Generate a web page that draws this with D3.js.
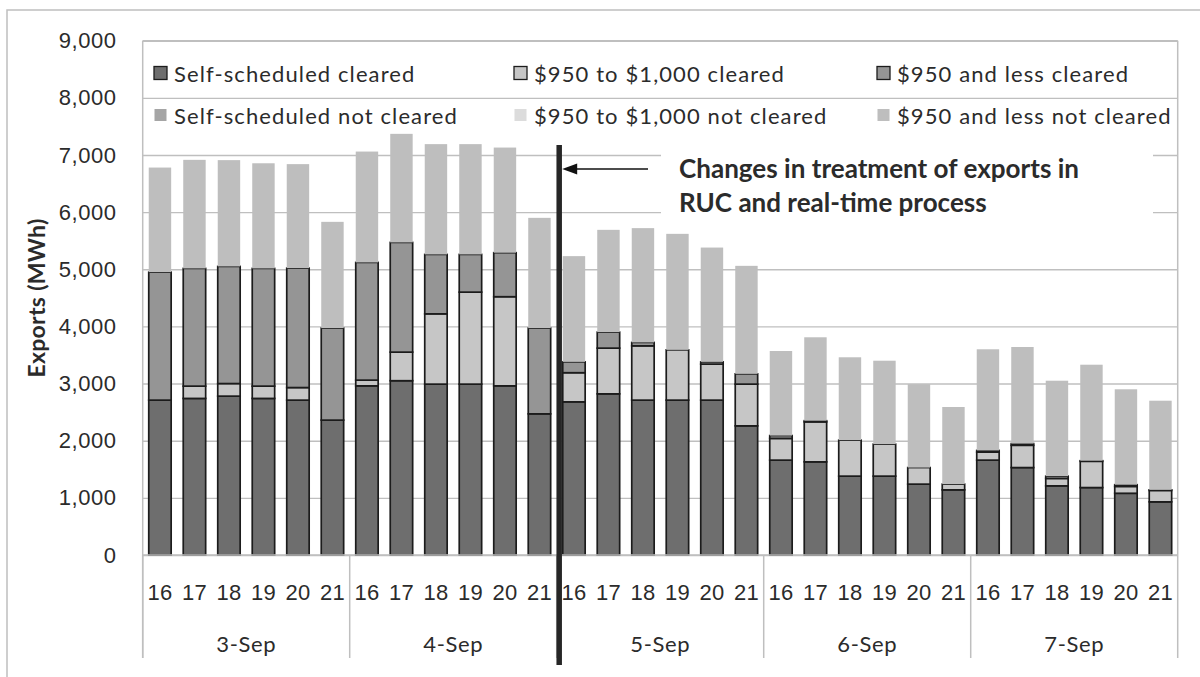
<!DOCTYPE html>
<html>
<head>
<meta charset="utf-8">
<script src="https://cdn.jsdelivr.net/npm/d3@7"></script>
<style>
  html, body { margin: 0; padding: 0; background: #fff; }
  svg { display: block; font-family: Lato, "Open Sans", sans-serif; }
</style>
</head>
<body>
<svg id="chart" width="1200" height="677"></svg>
<script>
// Export volumes by hour (16-21) for 3-7 September, MWh
const days = ["3-Sep", "4-Sep", "5-Sep", "6-Sep", "7-Sep"];
const hours = ["16", "17", "18", "19", "20", "21"];
const yTicks = [0, 1000, 2000, 3000, 4000, 5000, 6000, 7000, 8000, 9000];

const selfCleared = [
  2710, 2740, 2780, 2740, 2710, 2360,
  2960, 3050, 2990, 2990, 2960, 2470,
  2680, 2820, 2710, 2710, 2710, 2260,
  1660, 1630, 1380, 1380, 1240, 1140,
  1660, 1530, 1210, 1180, 1080, 930
];
const midCleared = [
  0, 215, 220, 215, 220, 0,
  100, 500, 1230, 1610, 1560, 0,
  510, 800, 950, 880, 630, 730,
  380, 700, 630, 560, 290, 100,
  140, 390, 130, 460, 120, 200
];
const lowCleared = [
  2240, 2060, 2050, 2060, 2090, 1610,
  2060, 1920, 1040, 660, 770, 1500,
  190, 280, 60, 0, 40, 180,
  50, 20, 0, 0, 0, 0,
  30, 30, 40, 10, 30, 10
];
const selfNotCleared = [
  0, 0, 0, 0, 0, 0,
  0, 0, 0, 0, 0, 0,
  0, 0, 0, 0, 0, 0,
  0, 0, 0, 0, 0, 0,
  0, 0, 0, 0, 0, 0
];
const midNotCleared = [
  0, 0, 0, 0, 0, 0,
  0, 0, 0, 0, 0, 0,
  0, 0, 0, 0, 0, 0,
  0, 0, 0, 0, 0, 0,
  0, 0, 0, 0, 0, 0
];
const lowNotCleared = [
  1830, 1900, 1860, 1840, 1820, 1860,
  1940, 1900, 1930, 1930, 1840, 1930,
  1850, 1790, 2000, 2030, 2000, 1890,
  1480, 1460, 1450, 1460, 1460, 1350,
  1770, 1690, 1670, 1680, 1670, 1560
];

const series = [
  { key: "selfCleared", label: "Self-scheduled cleared", values: selfCleared, color: "#6e6e6e", outlined: true },
  { key: "midCleared", label: "$950 to $1,000 cleared", values: midCleared, color: "#c6c6c6", outlined: true },
  { key: "lowCleared", label: "$950 and less cleared", values: lowCleared, color: "#959595", outlined: true },
  { key: "selfNotCleared", label: "Self-scheduled not cleared", values: selfNotCleared, color: "#a5a5a5", outlined: false },
  { key: "midNotCleared", label: "$950 to $1,000 not cleared", values: midNotCleared, color: "#dcdcdc", outlined: false },
  { key: "lowNotCleared", label: "$950 and less not cleared", values: lowNotCleared, color: "#bebebe", outlined: false }
];

// one row per day/hour slot
const rows = [];
days.forEach((d, di) => hours.forEach((h, hi) => {
  const i = di * hours.length + hi;
  const row = { id: d + " " + h, day: d, hour: h };
  series.forEach(s => { row[s.key] = s.values[i]; });
  rows.push(row);
}));

const svg = d3.select("#chart");
const plot = { left: 142.7, right: 1177.7, top: 40.7, bottom: 555 };
const textColor = "#2b2b2b";
const lineColor = "#bfbfbf";

const x = d3.scaleBand()
  .domain(rows.map(r => r.id))
  .range([plot.left, plot.right])
  .paddingInner(0.35)
  .paddingOuter(0.175);
const y = d3.scaleLinear().domain([0, 9000]).range([plot.bottom, plot.top]);

// outer frame of the chart
svg.append("rect")
  .attr("x", 7).attr("y", 10).attr("width", 1250).attr("height", 720)
  .attr("fill", "none").attr("stroke", lineColor).attr("stroke-width", 1.5);

// value axis with gridlines
const yAxis = svg.append("g")
  .attr("transform", `translate(${plot.left},0)`)
  .call(d3.axisLeft(y).tickValues(yTicks).tickFormat(d3.format(","))
    .tickSize(-(plot.right - plot.left)).tickPadding(26));
yAxis.select(".domain").remove();
yAxis.selectAll(".tick line").attr("stroke", lineColor).attr("stroke-width", 1.4);
yAxis.selectAll(".tick text")
  .attr("fill", textColor).style("font-size", "22px").style("letter-spacing", "0.6px");

// white backing of the note text
svg.append("rect")
  .attr("x", 661).attr("y", 146).attr("width", 492).attr("height", 76)
  .attr("fill", "#fff");

// stacked bars
const stack = d3.stack().keys(series.map(s => s.key));
const stacked = stack(rows);
stacked.forEach((layer, li) => {
  const s = series[li];
  svg.append("g")
    .selectAll("rect")
    .data(layer.filter(d => d[1] - d[0] > 0))
    .join("rect")
    .attr("x", d => x(d.data.id))
    .attr("width", x.bandwidth())
    .attr("y", d => y(d[1]))
    .attr("height", d => y(d[0]) - y(d[1]))
    .attr("fill", s.color)
    .attr("stroke", s.outlined ? "#1c1c1c" : "none")
    .attr("stroke-width", s.outlined ? 1.7 : 0);
});

// plot frame: left axis, top and right edges, category axis baseline
const groupEdges = days.map((d, di) => x(rows[di * hours.length].id) - x.step() * x.paddingInner() / 2);
groupEdges.push(plot.right);
svg.append("line").attr("x1", plot.left).attr("x2", plot.left)
  .attr("y1", plot.top).attr("y2", 658).attr("stroke", lineColor).attr("stroke-width", 1.5);
svg.append("line").attr("x1", plot.left).attr("x2", plot.right)
  .attr("y1", plot.top).attr("y2", plot.top).attr("stroke", lineColor).attr("stroke-width", 1.5);
svg.append("line").attr("x1", plot.left).attr("x2", plot.right)
  .attr("y1", plot.bottom).attr("y2", plot.bottom).attr("stroke", lineColor).attr("stroke-width", 1.5);
svg.append("g").selectAll("line")
  .data(groupEdges)
  .join("line")
  .attr("x1", d => d).attr("x2", d => d)
  .attr("y1", (d, i) => i === groupEdges.length - 1 ? plot.top : plot.bottom)
  .attr("y2", 658)
  .attr("stroke", lineColor).attr("stroke-width", 1.5);

// hour labels
const xAxis = svg.append("g")
  .attr("transform", `translate(0,${plot.bottom})`)
  .call(d3.axisBottom(x).tickSize(0).tickPadding(29).tickFormat(id => id.split(" ")[1]));
xAxis.select(".domain").remove();
xAxis.selectAll(".tick text")
  .attr("fill", textColor).style("font-size", "22px").style("letter-spacing", "0.3px");

// day labels
svg.append("g").selectAll("text")
  .data(days)
  .join("text")
  .attr("x", (d, i) => (groupEdges[i] + groupEdges[i + 1]) / 2)
  .attr("y", 652)
  .attr("text-anchor", "middle")
  .attr("fill", textColor)
  .style("font-size", "22px")
  .style("letter-spacing", "0.6px")
  .text(d => d);

// value axis title
svg.append("text")
  .attr("transform", "translate(36,298) rotate(-90)")
  .attr("text-anchor", "middle")
  .attr("dominant-baseline", "central")
  .attr("fill", textColor)
  .style("font-size", "23px")
  .style("font-weight", "bold")
  .style("letter-spacing", "0.3px")
  .text("Exports (MWh)");

// legend
const legendCols = [174, 534, 897];
const legendRows = [73, 115];
const legend = svg.append("g").selectAll("g")
  .data(series)
  .join("g")
  .attr("transform", (d, i) => `translate(${legendCols[i % 3]},${legendRows[Math.floor(i / 3)]})`);
legend.append("rect")
  .attr("x", d => d.outlined ? -20 : -19.5)
  .attr("y", d => d.outlined ? -6.5 : -6)
  .attr("width", d => d.outlined ? 13 : 12)
  .attr("height", d => d.outlined ? 13 : 12)
  .attr("fill", d => d.color)
  .attr("stroke", d => d.outlined ? "#1c1c1c" : "none")
  .attr("stroke-width", 1.3);
legend.append("text")
  .attr("x", 0)
  .attr("dominant-baseline", "central")
  .attr("fill", textColor)
  .style("font-size", "22px")
  .style("letter-spacing", "1.1px")
  .text(d => d.label);

// marker for the change in RUC / real-time treatment
const changeX = groupEdges[2] + 2.5;
svg.append("line")
  .attr("x1", changeX).attr("x2", changeX)
  .attr("y1", 145).attr("y2", 665)
  .attr("stroke", "#262626").attr("stroke-width", 5.5);

const arrowY = 169;
const tipX = changeX + 3;
svg.append("line")
  .attr("x1", tipX + 12).attr("x2", 648)
  .attr("y1", arrowY).attr("y2", arrowY)
  .attr("stroke", "#111").attr("stroke-width", 1.6);
svg.append("path")
  .attr("d", `M${tipX},${arrowY} L${tipX + 15},${arrowY - 5.5} L${tipX + 15},${arrowY + 5.5} Z`)
  .attr("fill", "#111");

const note = svg.append("text")
  .attr("fill", textColor)
  .style("font-size", "26px")
  .style("font-weight", "bold");
note.append("tspan").attr("x", 679).attr("y", 178)
  .attr("textLength", 400).attr("lengthAdjust", "spacingAndGlyphs")
  .text("Changes in treatment of exports in");
note.append("tspan").attr("x", 679).attr("y", 212)
  .text("RUC and real-time process");
</script>
</body>
</html>
